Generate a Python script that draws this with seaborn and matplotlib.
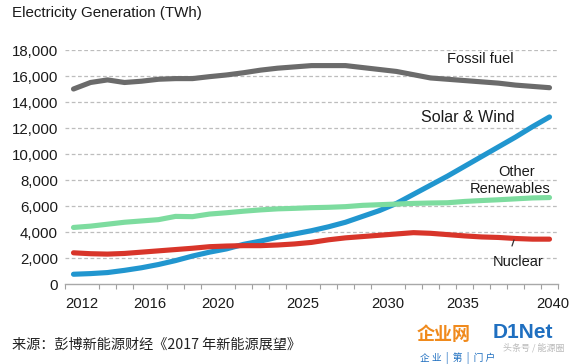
import numpy as np
import pandas as pd
import matplotlib
matplotlib.use("Agg")
import matplotlib.pyplot as plt
from matplotlib.ticker import FixedLocator, FuncFormatter
import seaborn as sns

# ---------------- data ----------------
years = list(range(2012, 2041))
fossil = [15000, 15500, 15700, 15500, 15600, 15750, 15800, 15800, 15950, 16080,
          16250, 16450, 16600, 16700, 16800, 16800, 16800, 16650, 16500, 16350,
          16100, 15850, 15750, 15650, 15550, 15450, 15300, 15200, 15100]
solar_wind = [750, 800, 880, 1050, 1250, 1500, 1800, 2150, 2450, 2700,
              3050, 3300, 3600, 3850, 4100, 4400, 4750, 5200, 5650, 6200,
              6900, 7600, 8300, 9050, 9800, 10550, 11300, 12100, 12850]
other_ren = [4350, 4450, 4600, 4750, 4850, 4950, 5200, 5180, 5380, 5480,
             5600, 5700, 5780, 5820, 5870, 5900, 5950, 6050, 6100, 6150,
             6200, 6230, 6250, 6350, 6420, 6480, 6550, 6620, 6650]
nuclear = [2400, 2330, 2300, 2350, 2450, 2550, 2650, 2750, 2870, 2920,
           2950, 2950, 3000, 3080, 3200, 3400, 3550, 3650, 3750, 3850,
           3950, 3900, 3800, 3700, 3620, 3580, 3500, 3450, 3450]

series_names = ["Fossil fuel", "Solar & Wind", "Other Renewables", "Nuclear"]
x_tick_labels = ["2012", "2016", "2020", "2025", "2030", "2035", "2040"]
y_ticks = [0, 2000, 4000, 6000, 8000, 10000, 12000, 14000, 16000, 18000]
title = "Electricity Generation (TWh)"
source = "来源：彭博新能源财经《2017 年新能源展望》"

df = pd.DataFrame({
    "year": years * 4,
    "value": fossil + solar_wind + other_ren + nuclear,
    "series": sum([[n] * len(years) for n in series_names], []),
})

palette = {"Fossil fuel": "#6b6b6b", "Solar & Wind": "#2196cf",
           "Other Renewables": "#7ddc9f", "Nuclear": "#d8352a"}

# ---------------- style ----------------
sns.set_theme(style="white")
plt.rcParams["font.family"] = ["Liberation Sans", "DejaVu Sans"]

W, H = 578, 364
fig = plt.figure(figsize=(W / 100, H / 100), dpi=100)
ax = fig.add_axes([65 / W, (H - 284) / H, (558 - 65) / W, (284 - 50) / H])

sns.lineplot(data=df, x="year", y="value", hue="series", hue_order=series_names,
             palette=palette, linewidth=3.7, legend=False, ax=ax,
             solid_capstyle="round")

ax.set_xlim(2011.5, 2040.5)
ax.set_ylim(0, 18000)

# grid
ax.set_yticks(y_ticks)
ax.yaxis.set_major_formatter(FuncFormatter(lambda v, p: f"{int(v):,}"))
for v in y_ticks[1:]:
    ax.axhline(v, color="#bdbdbd", lw=0.9, ls=(0, (3, 2)), zorder=0)

# x ticks: labels at category boundaries, minor tick marks at every boundary
label_pos = [2012.5, 2016.5, 2020.5, 2025.5, 2030.5, 2034.9, 2040.2]
ax.xaxis.set_major_locator(FixedLocator(label_pos))
ax.set_xticklabels(x_tick_labels)
ax.xaxis.set_minor_locator(FixedLocator(np.arange(2011.5, 2041, 1.0)))
ax.tick_params(axis="x", which="major", length=0, pad=9, labelsize=10.6,
               labelcolor="#1a1a1a")
ax.tick_params(axis="x", which="minor", bottom=True, length=3.5, width=0.8,
               color="#a0a0a0", direction="out")
ax.tick_params(axis="y", length=0, pad=5, labelsize=10.8, labelcolor="#1a1a1a")

for s in ["top", "right", "left"]:
    ax.spines[s].set_visible(False)
ax.spines["bottom"].set_color("#a8a8a8")
ax.spines["bottom"].set_linewidth(1.0)
ax.set_xlabel("")
ax.set_ylabel("")

# series labels
def px(xp, yp):
    return 2011.5 + (xp - 65) / 17.0, (284 - yp) * 18000 / 234

tc = "#1a1a1a"
ax.text(*px(480, 59), "Fossil fuel", ha="center", va="center", fontsize=10.5, color=tc)
ax.text(*px(468, 118), "Solar & Wind", ha="center", va="center", fontsize=11.5, color=tc)
ax.text(*px(517, 172), "Other", ha="center", va="center", fontsize=10.5, color=tc)
ax.text(*px(510, 189), "Renewables", ha="center", va="center", fontsize=10.5, color=tc)
ax.text(*px(518, 262), "Nuclear", ha="center", va="center", fontsize=10.5, color=tc)
x0, y0 = px(512, 246)
x1, y1 = px(514, 240)
ax.plot([x0, x1], [y0, y1], color="#333333", lw=0.9)

# title and source
fig.text(12 / W, 1 - 13 / H, title, ha="left", va="center", fontsize=10.9, color=tc)
fig.text(12 / W, 1 - 345 / H, source, ha="left", va="center", fontsize=10.2,
         color="#222222", family=["Noto Sans CJK SC", "DejaVu Sans"])

# watermark
fig.text(417 / W, 1 - 334 / H, "企业网", ha="left", va="center", fontsize=13,
         fontweight="bold", color="#f08a1c", family=["Noto Sans CJK SC"])
fig.text(493 / W, 1 - 333 / H, "D1Net", ha="left", va="center", fontsize=15,
         fontweight="bold", color="#1f6fc0")
fig.text(420 / W, 1 - 358 / H, "企 业  |  第  |  门 户", ha="left", va="center",
         fontsize=7, color="#1f6fc0", family=["Noto Sans CJK SC"])
fig.text(503 / W, 1 - 348 / H, "头条号 / 能源圈", ha="left", va="center",
         fontsize=6.5, color="#bbbbbb", family=["Noto Sans CJK SC"])

fig.savefig("out.png", dpi=100)
